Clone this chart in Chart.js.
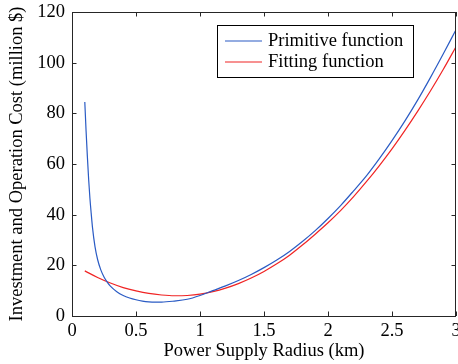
<!DOCTYPE html>
<html>
<head>
<meta charset="utf-8">
<script src="https://cdn.jsdelivr.net/npm/chart.js@4.4.1/dist/chart.umd.min.js"></script>
<style>
html,body{margin:0;padding:0;background:#fff;}
#wrap{width:458px;height:364px;position:relative;}
</style>
</head>
<body>
<div id="wrap"><canvas id="c" width="458" height="364"></canvas></div>
<script>
const seriesNames = ["Primitive function", "Fitting function"];
const xPrimitive = [0.1,0.11,0.12,0.13,0.14,0.15,0.16,0.18,0.2,0.225,0.25,0.275,0.3,0.35,0.4,0.45,0.5,0.55,0.6,0.65,0.7,0.8,0.9,1.0,1.1,1.2,1.3,1.4,1.5,1.6,1.7,1.8,1.9,2.0,2.1,2.2,2.3,2.4,2.5,2.6,2.7,2.8,2.9,3.0];
const primitiveCost = [84.5,73,63,54,46.5,40.5,35,27.3,22.3,18.2,15.4,13.4,11.8,9.6,8.1,7.1,6.4,5.9,5.6,5.5,5.5,5.9,6.6,8.1,10.0,11.9,14.0,16.4,19.1,22.1,25.5,29.4,33.7,38.5,43.7,49.4,55.3,62.0,69.2,76.9,85.2,94.1,103.4,113.0];
const xFitting = [0.1,0.2,0.3,0.4,0.5,0.6,0.7,0.8,0.9,1.0,1.1,1.2,1.3,1.4,1.5,1.6,1.7,1.8,1.9,2.0,2.1,2.2,2.3,2.4,2.5,2.6,2.7,2.8,2.9,3.0];
const fittingCost = [17.8,15.2,13.0,11.2,9.9,8.9,8.3,8.0,8.1,8.6,9.6,11.0,12.8,15.0,17.6,20.6,24.0,28.0,32.3,36.8,41.7,47.1,53.0,59.3,66.0,73.2,80.8,88.8,97.3,106.3];
const xTicks = [0,0.5,1,1.5,2,2.5,3];
const yTicks = [0,20,40,60,80,100,120];
const xTitle = "Power Supply Radius (km)";
const yTitle = "Investment and Operation Cost (million $)";

const FONT = "'Liberation Serif', 'Times New Roman', serif";
const FS = 18.5;
const AXC = '#262626';
const colors = ['#2a5bc4', '#f02424'];

const frame = {
  id: 'frame',
  afterDatasetsDraw(chart) {
    const {ctx, chartArea: a, scales: {x, y}} = chart;
    ctx.save();
    ctx.strokeStyle = AXC;
    ctx.lineWidth = 1;
    ctx.beginPath();
    ctx.rect(Math.round(a.left)+0.5, Math.round(a.top)+0.5, Math.round(a.right-a.left)-1, Math.round(a.bottom-a.top));
    ctx.stroke();
    const L = 4.5;
    ctx.beginPath();
    xTicks.forEach(v => {
      const px = Math.round(x.getPixelForValue(v)) + 0.5;
      ctx.moveTo(px, a.bottom); ctx.lineTo(px, a.bottom - L);
      ctx.moveTo(px, a.top); ctx.lineTo(px, a.top + L);
    });
    yTicks.forEach(v => {
      const py = Math.round(y.getPixelForValue(v)) + 0.5;
      ctx.moveTo(a.left, py); ctx.lineTo(a.left + L, py);
      ctx.moveTo(a.right, py); ctx.lineTo(a.right - L, py);
    });
    ctx.stroke();
    // legend
    const bx = 217.5, by = 25.5, bw = 196, bh = 52;
    ctx.fillStyle = '#fff';
    ctx.fillRect(bx, by, bw, bh);
    ctx.strokeStyle = '#000';
    ctx.strokeRect(bx, by, bw, bh);
    ctx.font = FS + 'px ' + FONT;
    ctx.textBaseline = 'middle';
    ctx.textAlign = 'left';
    chart.data.datasets.forEach((ds, i) => {
      const ly = 41 + i * 21;
      ctx.strokeStyle = ds.borderColor;
      ctx.lineWidth = 1.2;
      ctx.beginPath();
      ctx.moveTo(225, ly); ctx.lineTo(262, ly);
      ctx.stroke();
      ctx.fillStyle = '#000';
      ctx.fillText(ds.label, 268, ly);
    });
    ctx.restore();
  }
};

function zeroPad(s) { s.paddingLeft = 0; s.paddingRight = 0; s.paddingTop = 0; s.paddingBottom = 0; }

new Chart(document.getElementById('c'), {
  type: 'scatter',
  data: {
    datasets: [
      { label: seriesNames[0], data: xPrimitive.map((v, i) => ({x: v, y: primitiveCost[i]})),
        borderColor: colors[0], borderWidth: 1.2, showLine: true, pointRadius: 0, cubicInterpolationMode: 'monotone' },
      { label: seriesNames[1], data: xFitting.map((v, i) => ({x: v, y: fittingCost[i]})),
        borderColor: colors[1], borderWidth: 1.2, showLine: true, pointRadius: 0, cubicInterpolationMode: 'monotone' }
    ]
  },
  options: {
    responsive: false,
    animation: false,
    events: [],
    layout: { padding: { top: 12, right: 2, left: 0, bottom: 0 } },
    plugins: { legend: { display: false }, tooltip: { enabled: false } },
    scales: {
      x: {
        type: 'linear', min: 0, max: 3,
        afterBuildTicks: s => { s.ticks = xTicks.map(v => ({value: v})); },
        afterFit: s => { s.height = 48; zeroPad(s); },
        grid: { display: false, drawTicks: false },
        border: { display: false },
        ticks: { color: '#000', padding: 4, maxRotation: 0, font: { family: FONT, size: FS }, callback: v => String(v) },
        title: { display: true, text: xTitle, color: '#000', padding: { top: 0, bottom: 2 }, font: { family: FONT, size: FS } }
      },
      y: {
        type: 'linear', min: 0, max: 120,
        afterBuildTicks: s => { s.ticks = yTicks.map(v => ({value: v})); },
        afterFit: s => { s.width = 72; zeroPad(s); },
        grid: { display: false, drawTicks: false },
        border: { display: false },
        ticks: { color: '#000', padding: 7, font: { family: FONT, size: FS }, callback: v => String(v) },
        title: { display: true, text: yTitle, color: '#000', padding: { top: 6, bottom: 0 }, font: { family: FONT, size: FS } }
      }
    }
  },
  plugins: [frame]
});
</script>
</body>
</html>
